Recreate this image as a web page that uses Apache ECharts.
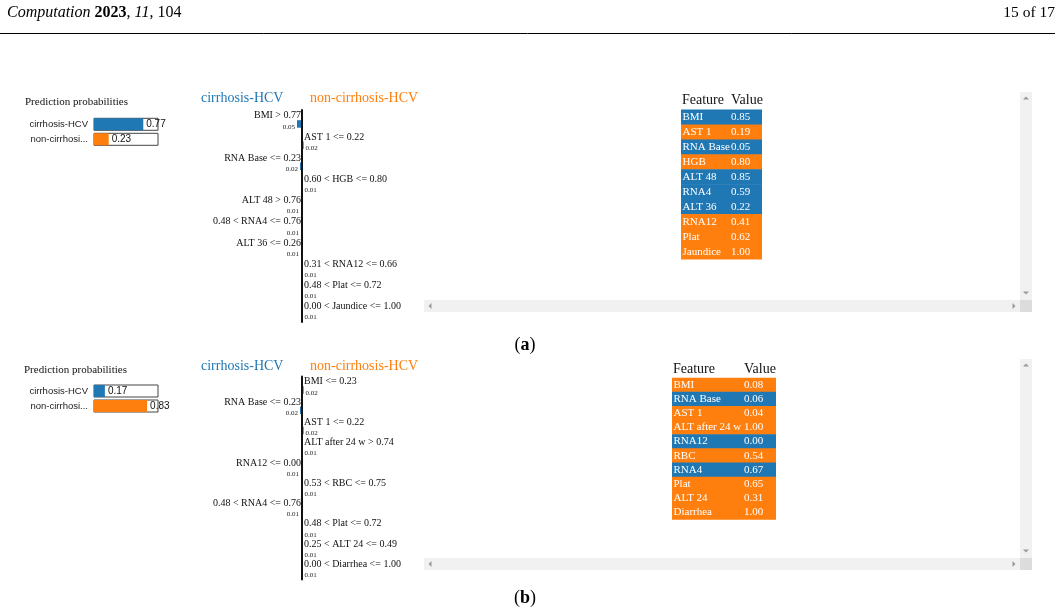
<!DOCTYPE html>
<html>
<head>
<meta charset="utf-8">
<script src="https://cdn.jsdelivr.net/npm/echarts@6/dist/echarts.min.js"></script>
<style>
  html, body { margin: 0; padding: 0; background: #fff; }
  #chart { width: 1061px; height: 616px; }
</style>
</head>
<body>
<div id="chart"></div>
<script>
// class names and colours
const classNames = ['cirrhosis-HCV', 'non-cirrhosi...'];
const BLUE = '#1f77b4';
const ORANGE = '#ff7f0e';

// panel (a)
const probA = [0.77, 0.23];
const featuresA = ['BMI', 'AST 1', 'RNA Base', 'HGB', 'ALT 48', 'RNA4', 'ALT 36', 'RNA12', 'Plat', 'Jaundice'];
const rulesA = ['BMI > 0.77', 'AST 1 <= 0.22', 'RNA Base <= 0.23', '0.60 < HGB <= 0.80', 'ALT 48 > 0.76',
    '0.48 < RNA4 <= 0.76', 'ALT 36 <= 0.26', '0.31 < RNA12 <= 0.66', '0.48 < Plat <= 0.72', '0.00 < Jaundice <= 1.00'];
// negative = towards cirrhosis-HCV, positive = towards non-cirrhosis-HCV
const weightsA = [-0.05, 0.02, -0.02, 0.01, -0.01, -0.01, -0.01, 0.01, 0.01, 0.01];
const valuesA = [0.85, 0.19, 0.05, 0.80, 0.85, 0.59, 0.22, 0.41, 0.62, 1.00];

// panel (b)
const probB = [0.17, 0.83];
const featuresB = ['BMI', 'RNA Base', 'AST 1', 'ALT after 24 w', 'RNA12', 'RBC', 'RNA4', 'Plat', 'ALT 24', 'Diarrhea'];
const rulesB = ['BMI <= 0.23', 'RNA Base <= 0.23', 'AST 1 <= 0.22', 'ALT after 24 w > 0.74', 'RNA12 <= 0.00',
    '0.53 < RBC <= 0.75', '0.48 < RNA4 <= 0.76', '0.48 < Plat <= 0.72', '0.25 < ALT 24 <= 0.49', '0.00 < Diarrhea <= 1.00'];
const weightsB = [0.02, -0.02, 0.02, 0.01, -0.01, 0.01, -0.01, 0.01, 0.01, 0.01];
const valuesB = [0.08, 0.06, 0.04, 1.00, 0.00, 0.54, 0.67, 0.65, 0.31, 1.00];

const SERIF = '"Liberation Serif", "Times New Roman", serif';
const SANS = '"Liberation Sans", Arial, sans-serif';

const chart = echarts.init(document.getElementById('chart'));

// feature contribution bars with rule text above them
const contribRender = (rules) => (params, api) => {
    const i = api.value(0);
    const w = api.value(1);
    const c0 = api.coord([0, i]);
    const c1 = api.coord([w, i]);
    const x0 = c0[0], yc = c0[1];
    const left = w < 0;
    return {
        type: 'group',
        children: [
            {
                type: 'rect',
                shape: { x: Math.min(x0, c1[0]), y: yc - 0.5, width: Math.abs(c1[0] - x0), height: 7.5 },
                style: { fill: left ? BLUE : ORANGE }
            },
            {
                type: 'text',
                style: {
                    text: rules[i], x: left ? x0 - 1 : x0 + 2, y: yc - 5,
                    align: left ? 'right' : 'left', verticalAlign: 'middle',
                    font: '10px ' + SERIF, fill: '#111'
                }
            },
            {
                type: 'text',
                style: {
                    text: Math.abs(w).toFixed(2), x: left ? c1[0] - 2 : c1[0] + 1.5, y: yc + 6,
                    align: left ? 'right' : 'left', verticalAlign: 'middle',
                    font: '7px ' + SERIF, fill: '#222'
                }
            }
        ]
    };
};

// feature/value table rows (row 0 is the header)
const tableRender = (features, values, weights, valueCol) => (params, api) => {
    const i = api.value(0);
    const cs = params.coordSys;
    const yc = api.coord([0, i])[1];
    const h = api.size([0, 1])[1];
    const x = cs.x;
    if (i === 0) {
        return {
            type: 'group',
            children: [
                { type: 'text', style: { text: 'Feature', x: x + 1, y: yc - 2, verticalAlign: 'middle', font: '14px ' + SERIF, fill: '#111' } },
                { type: 'text', style: { text: 'Value', x: x + valueCol, y: yc - 2, verticalAlign: 'middle', font: '14px ' + SERIF, fill: '#111' } }
            ]
        };
    }
    const k = i - 1;
    return {
        type: 'group',
        children: [
            {
                type: 'rect',
                shape: { x: x, y: yc - h / 2 - 0.3, width: cs.width, height: h + 0.6 },
                style: { fill: weights[k] < 0 ? BLUE : ORANGE }
            },
            { type: 'text', style: { text: features[k], x: x + 1.5, y: yc, verticalAlign: 'middle', font: '11px ' + SERIF, fill: '#fff' } },
            { type: 'text', style: { text: values[k].toFixed(2), x: x + valueCol, y: yc, verticalAlign: 'middle', font: '11px ' + SERIF, fill: '#fff' } }
        ]
    };
};

const hiddenValueAxis = (gridIndex, min, max) => ({
    type: 'value', gridIndex, min, max, show: false
});

const probYAxis = (gridIndex) => ({
    type: 'category', gridIndex, inverse: true, data: classNames,
    axisLine: { show: false }, axisTick: { show: false },
    axisLabel: { margin: 6, fontFamily: SANS, fontSize: 9.5, color: '#222' }
});

const contribYAxis = (gridIndex, rules) => ({
    type: 'category', gridIndex, inverse: true, data: rules, z: 5,
    axisLine: { show: true, onZero: true, lineStyle: { color: '#111', width: 2 } },
    axisTick: { show: false }, axisLabel: { show: false }, splitLine: { show: false }
});

const tableYAxis = (gridIndex, features) => ({
    type: 'category', gridIndex, inverse: true, data: ['header'].concat(features), show: false
});

const probSeries = (idx, probs) => ({
    type: 'bar', xAxisIndex: idx, yAxisIndex: idx, barWidth: 12,
    data: probs.map((v, i) => ({ value: v, itemStyle: { color: i === 0 ? BLUE : ORANGE } })),
    showBackground: true,
    backgroundStyle: { color: '#fff', borderColor: '#444', borderWidth: 1 },
    label: {
        show: true, position: 'right', distance: 3,
        formatter: (p) => p.value.toFixed(2),
        fontFamily: SANS, fontSize: 10, color: '#111'
    },
    silent: true, animation: false
});

const rowIndex = (arr) => arr.map((w, i) => [i, w]);

// little scrollbar frame around each table, like the LIME html output
const scrollFrame = (top, bottom) => {
    const tri = (cx, cy, dir) => {
        let pts;
        if (dir === 'up') pts = [[cx - 3, cy + 1.5], [cx + 3, cy + 1.5], [cx, cy - 1.5]];
        else if (dir === 'down') pts = [[cx - 3, cy - 1.5], [cx + 3, cy - 1.5], [cx, cy + 1.5]];
        else if (dir === 'left') pts = [[cx + 1.5, cy - 3], [cx + 1.5, cy + 3], [cx - 1.5, cy]];
        else pts = [[cx - 1.5, cy - 3], [cx - 1.5, cy + 3], [cx + 1.5, cy]];
        return { type: 'polygon', shape: { points: pts }, style: { fill: '#9a9a9a' } };
    };
    return [
        { type: 'rect', shape: { x: 1020, y: top, width: 12, height: bottom - top - 12 }, style: { fill: '#f1f1f1' } },
        { type: 'rect', shape: { x: 424, y: bottom - 12, width: 596, height: 12 }, style: { fill: '#f1f1f1' } },
        { type: 'rect', shape: { x: 1020, y: bottom - 12, width: 12, height: 12 }, style: { fill: '#dcdcdc' } },
        tri(1026, top + 6, 'up'),
        tri(1026, bottom - 19, 'down'),
        tri(430, bottom - 6, 'left'),
        tri(1014, bottom - 6, 'right')
    ];
};

const textEl = (text, x, y, font, fill, align) => ({
    type: 'text', style: { text, x, y, font, fill, align: align || 'left', verticalAlign: 'middle' }
});

const caption = (letter, y) => ({
    type: 'text',
    style: {
        text: '({b|' + letter + '})', x: 525, y, align: 'center', verticalAlign: 'middle',
        fontFamily: SERIF, fontSize: 18, fill: '#000',
        rich: { b: { fontFamily: SERIF, fontSize: 18, fontWeight: 'bold', fill: '#000' } }
    }
});

const option = {
    backgroundColor: '#fff',
    animation: false,
    grid: [
        { left: 94, top: 116.8, width: 64, height: 30, outerBoundsMode: 'none' },
        { left: 202, top: 110.1, width: 200, height: 212, outerBoundsMode: 'none' },
        { left: 681, top: 94.9, width: 81, height: 164.2, outerBoundsMode: 'none' },
        { left: 94, top: 383.5, width: 64, height: 30, outerBoundsMode: 'none' },
        { left: 202, top: 376.6, width: 200, height: 203, outerBoundsMode: 'none' },
        { left: 672, top: 363.8, width: 104, height: 155.6, outerBoundsMode: 'none' }
    ],
    xAxis: [
        hiddenValueAxis(0, 0, 1),
        hiddenValueAxis(1, -1, 1),
        hiddenValueAxis(2, 0, 1),
        hiddenValueAxis(3, 0, 1),
        hiddenValueAxis(4, -1, 1),
        hiddenValueAxis(5, 0, 1)
    ],
    yAxis: [
        probYAxis(0),
        contribYAxis(1, rulesA),
        tableYAxis(2, featuresA),
        probYAxis(3),
        contribYAxis(4, rulesB),
        tableYAxis(5, featuresB)
    ],
    series: [
        probSeries(0, probA),
        {
            type: 'custom', xAxisIndex: 1, yAxisIndex: 1, silent: true,
            data: rowIndex(weightsA), encode: { x: 1, y: 0 },
            renderItem: contribRender(rulesA)
        },
        {
            type: 'custom', xAxisIndex: 2, yAxisIndex: 2, silent: true,
            data: rowIndex(['h'].concat(featuresA)).map((d) => [d[0], 0]), encode: { x: 1, y: 0 },
            renderItem: tableRender(featuresA, valuesA, weightsA, 50)
        },
        probSeries(3, probB),
        {
            type: 'custom', xAxisIndex: 4, yAxisIndex: 4, silent: true,
            data: rowIndex(weightsB), encode: { x: 1, y: 0 },
            renderItem: contribRender(rulesB)
        },
        {
            type: 'custom', xAxisIndex: 5, yAxisIndex: 5, silent: true,
            data: rowIndex(['h'].concat(featuresB)).map((d) => [d[0], 0]), encode: { x: 1, y: 0 },
            renderItem: tableRender(featuresB, valuesB, weightsB, 72)
        }
    ],
    graphic: [
        // page header
        {
            type: 'text',
            style: {
                text: '{i|Computation} {b|2023}, {i|11}, 104', x: 7, y: 13, verticalAlign: 'middle',
                fontFamily: SERIF, fontSize: 16, fill: '#000',
                rich: {
                    i: { fontFamily: SERIF, fontSize: 16, fontStyle: 'italic', fill: '#000' },
                    b: { fontFamily: SERIF, fontSize: 16, fontWeight: 'bold', fill: '#000' }
                }
            }
        },
        textEl('15 of 17', 1055, 13, '15.5px ' + SERIF, '#000', 'right'),
        { type: 'line', shape: { x1: 0, y1: 33.5, x2: 1055, y2: 33.5 }, style: { stroke: '#000', lineWidth: 1 } },

        // panel (a)
        textEl('Prediction probabilities', 25, 102.5, '11px ' + SERIF, '#111'),
        textEl('cirrhosis-HCV', 201, 98.5, '14px ' + SERIF, BLUE),
        textEl('non-cirrhosis-HCV', 310, 98.5, '14px ' + SERIF, ORANGE),
        ...scrollFrame(92, 312),
        caption('a', 345),

        // panel (b)
        textEl('Prediction probabilities', 24, 370.5, '11px ' + SERIF, '#111'),
        textEl('cirrhosis-HCV', 201, 366.5, '14px ' + SERIF, BLUE),
        textEl('non-cirrhosis-HCV', 310, 366.5, '14px ' + SERIF, ORANGE),
        ...scrollFrame(359, 570),
        caption('b', 598)
    ]
};

chart.setOption(option);
</script>
</body>
</html>
